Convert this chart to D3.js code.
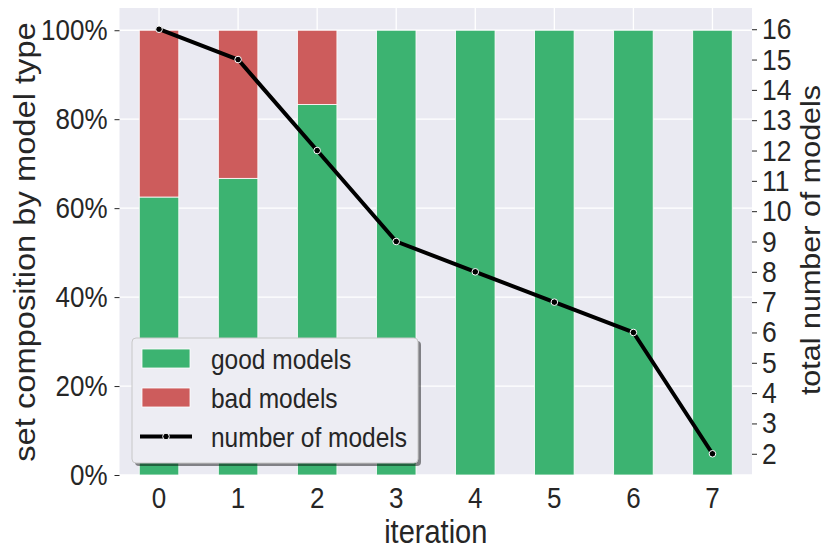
<!DOCTYPE html>
<html>
<head>
<meta charset="utf-8">
<script src="https://cdn.jsdelivr.net/npm/d3@7"></script>
<style>
  body { margin: 0; background: #fff; }
  svg { display: block; font-family: "Liberation Sans", Arial, sans-serif; }
</style>
</head>
<body>
<svg id="svg" width="831" height="557"></svg>
<script>
const iterations = [0, 1, 2, 3, 4, 5, 6, 7];
const goodShare = [0.625, 0.667, 0.833, 1, 1, 1, 1, 1];
const badShare = [0.375, 0.333, 0.167, 0, 0, 0, 0, 0];
const modelCounts = [16, 15, 12, 9, 8, 7, 6, 2];
const leftTicks = [0, 0.2, 0.4, 0.6, 0.8, 1.0];
const rightTicks = [2, 3, 4, 5, 6, 7, 8, 9, 10, 11, 12, 13, 14, 15, 16];
const legendItems = ["good models", "bad models", "number of models"];

draw();

function draw(
    {
        left = 119.5,
        right = 752,
        top = 8,
        bottom = 475,
        goodColor = "#3cb371",
        badColor = "#cd5c5c",
        bgColor = "#eaeaf2",
        textColor = "#262626",
        stretch = 1.12   // the picture's text is a bit taller than it is wide
    } = {}
) {
    const svg = d3.select("#svg");

    const x = d3.scaleBand()
        .domain(iterations)
        .range([left, right])
        .paddingInner(0.5)
        .paddingOuter(0.25);
    const yLeft = d3.scaleLinear([0, 1.05], [bottom, top]);
    const yRight = d3.scaleLinear([1.3, 16.7], [bottom, top]);
    const cx = d => x(d) + x.bandwidth() / 2;

    // plot background
    svg.append("rect")
        .attr("x", left).attr("y", top)
        .attr("width", right - left).attr("height", bottom - top)
        .attr("fill", bgColor);

    // grid
    const grid = svg.append("g").attr("stroke", "#fff").attr("stroke-width", 1.3);
    grid.selectAll("line.h")
        .data(leftTicks)
        .join("line")
        .attr("x1", left).attr("x2", right)
        .attr("y1", d => yLeft(d)).attr("y2", d => yLeft(d));
    grid.selectAll("line.v")
        .data(iterations)
        .join("line")
        .attr("class", "v")
        .attr("x1", cx).attr("x2", cx)
        .attr("y1", top).attr("y2", bottom);

    // stacked bars
    const bars = svg.append("g").attr("stroke", "#fff").attr("stroke-width", 0.8);
    bars.selectAll("rect.good")
        .data(iterations)
        .join("rect")
        .attr("class", "good")
        .attr("x", d => x(d))
        .attr("width", x.bandwidth())
        .attr("y", (d, i) => yLeft(goodShare[i]))
        .attr("height", (d, i) => yLeft(0) - yLeft(goodShare[i]))
        .attr("fill", goodColor);
    bars.selectAll("rect.bad")
        .data(iterations.filter((d, i) => badShare[i] > 0))
        .join("rect")
        .attr("class", "bad")
        .attr("x", d => x(d))
        .attr("width", x.bandwidth())
        .attr("y", d => yLeft(goodShare[d] + badShare[d]))
        .attr("height", d => yLeft(goodShare[d]) - yLeft(goodShare[d] + badShare[d]))
        .attr("fill", badColor);

    // axes
    const axisStyle = size => g => {
        g.select(".domain").remove();
        g.selectAll(".tick line").attr("stroke", textColor);
        g.selectAll(".tick text")
            .attr("fill", textColor)
            .attr("font-size", size)
            .attr("font-family", "Liberation Sans, Arial, sans-serif")
            .each(function() {
                const t = d3.select(this);
                const yy = +t.attr("y") || 0;
                t.attr("y", yy / stretch).attr("transform", `scale(1,${stretch})`);
            });
    };

    svg.append("g")
        .attr("transform", `translate(${left},0)`)
        .call(d3.axisLeft(yLeft).tickValues(leftTicks).tickSize(5).tickPadding(7)
            .tickFormat(d3.format(".0%")))
        .call(axisStyle(26));

    svg.append("g")
        .attr("transform", `translate(${right},0)`)
        .call(d3.axisRight(yRight).tickValues(rightTicks).tickSize(5).tickPadding(5))
        .call(axisStyle(26.5));

    svg.append("g")
        .attr("transform", `translate(0,${bottom})`)
        .call(d3.axisBottom(x).tickSize(0).tickPadding(12))
        .call(axisStyle(26));

    // count line
    const line = d3.line()
        .x(d => cx(d))
        .y(d => yRight(modelCounts[d]));
    svg.append("path")
        .datum(iterations)
        .attr("d", line)
        .attr("fill", "none")
        .attr("stroke", "#000")
        .attr("stroke-width", 4)
        .attr("stroke-linejoin", "round");
    svg.append("g")
        .selectAll("circle")
        .data(iterations)
        .join("circle")
        .attr("cx", cx)
        .attr("cy", d => yRight(modelCounts[d]))
        .attr("r", 3.3)
        .attr("fill", "#000")
        .attr("stroke", "#fff")
        .attr("stroke-width", 1);

    // axis labels
    svg.append("text")
        .attr("transform", `translate(${(left + right) / 2},543) scale(1,1.13)`)
        .attr("text-anchor", "middle")
        .attr("font-size", 29)
        .attr("fill", textColor)
        .text("iteration");

    svg.append("text")
        .attr("transform", `translate(35,242) rotate(-90) scale(1.09,1)`)
        .attr("text-anchor", "middle")
        .attr("font-size", 30)
        .attr("fill", textColor)
        .text("set composition by model type");

    svg.append("text")
        .attr("transform", `translate(820,240) rotate(-90) scale(1.09,1)`)
        .attr("text-anchor", "middle")
        .attr("font-size", 28)
        .attr("fill", textColor)
        .text("total number of models");

    // legend
    const legend = svg.append("g").attr("transform", "translate(132,338)");
    const lw = 286, lh = 125;
    legend.append("rect")
        .attr("x", 3).attr("y", 3)
        .attr("width", lw).attr("height", lh)
        .attr("rx", 4)
        .attr("fill", "#000")
        .attr("fill-opacity", 0.45);
    legend.append("rect")
        .attr("width", lw).attr("height", lh)
        .attr("rx", 4)
        .attr("fill", "#ededf3")
        .attr("stroke", "#c8c8c8")
        .attr("stroke-width", 1);

    const rowY = i => 20.5 + i * 39;
    const entries = legend.selectAll("g.entry")
        .data(legendItems)
        .join("g")
        .attr("transform", (d, i) => `translate(0,${rowY(i)})`);

    entries.filter((d, i) => i < 2)
        .append("rect")
        .attr("x", 10).attr("y", -9.5)
        .attr("width", 48).attr("height", 19)
        .attr("fill", (d, i) => i === 0 ? goodColor : badColor)
        .attr("stroke", "#fff")
        .attr("stroke-width", 0.8);

    const lineEntry = entries.filter((d, i) => i === 2);
    lineEntry.append("line")
        .attr("x1", 8).attr("x2", 60)
        .attr("stroke", "#000").attr("stroke-width", 4);
    lineEntry.append("circle")
        .attr("cx", 34).attr("r", 3.3)
        .attr("fill", "#000").attr("stroke", "#fff").attr("stroke-width", 1);

    entries.append("text")
        .attr("transform", `translate(79,10.5) scale(1,1.15)`)
        .attr("font-size", 24.5)
        .attr("fill", textColor)
        .text(d => d);
}
</script>
</body>
</html>
